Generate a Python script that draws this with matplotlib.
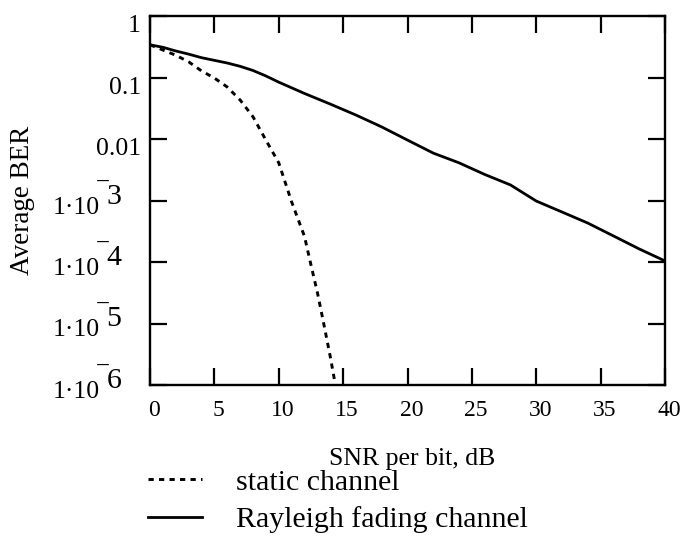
import matplotlib
matplotlib.use('Agg')
import matplotlib.pyplot as plt
from matplotlib.ticker import NullLocator, NullFormatter
from matplotlib.transforms import blended_transform_factory, offset_copy, ScaledTranslation

plt.rcParams['font.family'] = ['Liberation Serif', 'DejaVu Serif']

# static channel (dashed)
static_snr = [0, 1, 2, 3, 4, 5, 6, 7, 8, 9, 10, 11, 12, 12.5, 13, 13.5, 14, 14.4]
static_ber = [0.34, 0.28, 0.23, 0.18, 0.128, 0.098, 0.070, 0.043, 0.023,
              0.0096, 0.0041, 9.5e-4, 2.6e-4, 9e-5, 3.2e-5, 9.8e-6, 2.9e-6, 1e-6]

# Rayleigh fading channel (solid)
rayleigh_snr = [0, 1, 2, 3, 4, 5, 6, 7, 8, 9, 10, 12, 14, 16, 18, 20, 22, 24,
                26, 28, 30, 32, 34, 36, 38, 40]
rayleigh_ber = [0.34, 0.31, 0.27, 0.24, 0.21, 0.19, 0.172, 0.152, 0.13, 0.106,
                0.084, 0.055, 0.037, 0.0245, 0.0157, 0.0096, 0.0059, 0.0041,
                0.00265, 0.00179, 9.8e-4, 6.5e-4, 4.3e-4, 2.65e-4, 1.63e-4, 1.04e-4]

x_ticks = [0, 5, 10, 15, 20, 25, 30, 35, 40]
y_ticks = [1, 0.1, 0.01, 1e-3, 1e-4, 1e-5, 1e-6]
y_plain = {1: '1', 0.1: '0.1', 0.01: '0.01'}
y_exp = {1e-3: '3', 1e-4: '4', 1e-5: '5', 1e-6: '6'}

fig = plt.figure(figsize=(6.84, 5.42), dpi=100)
ax = fig.add_axes([150 / 684, 1 - 385 / 542, 515 / 684, 369 / 542])

ax.plot(static_snr, static_ber, color='black', lw=2.1, linestyle=(0, (1.8, 1.8)),
        label='static channel')
ax.plot(rayleigh_snr, rayleigh_ber, color='black', lw=2.0,
        label='Rayleigh fading channel')

ax.set_yscale('log')
ax.set_xlim(0, 40)
ax.set_ylim(1e-6, 1)
ax.set_xticks(x_ticks)
ax.set_yticks(y_ticks)
ax.yaxis.set_minor_locator(NullLocator())
ax.yaxis.set_major_formatter(NullFormatter())
ax.tick_params(direction='in', length=12, width=1.6, top=True, right=True,
               labelsize=17, pad=11)
for lbl in ax.get_xticklabels():
    lbl.set_transform(lbl.get_transform() + ScaledTranslation(4 / 100, 0, fig.dpi_scale_trans))
for s in ax.spines.values():
    s.set_linewidth(1.7)

# y tick labels drawn by hand, Mathcad style "1·10‾3"
tr = blended_transform_factory(ax.transAxes, ax.transData)
for v, lab in y_plain.items():
    ax.text(0, v, lab, fontsize=18.5, ha='right', va='baseline',
            transform=offset_copy(tr, fig=fig, x=-9, y=-16, units='dots'))
for v, lab in y_exp.items():
    ax.text(0, v, '1\u00b710', fontsize=18.5, ha='right', va='baseline',
            transform=offset_copy(tr, fig=fig, x=-50, y=-13, units='dots'))
    ax.text(0, v, '\u203e' + lab, fontsize=21.5, ha='left', va='baseline',
            transform=offset_copy(tr, fig=fig, x=-52, y=-3, units='dots'))

fig.text(23 / 684, 1 - 200 / 542, 'Average BER', rotation=90, fontsize=19.5,
         ha='center', va='center')
fig.text(412 / 684, 1 - 465 / 542, 'SNR per bit, dB', fontsize=18.5,
         ha='center', va='baseline')

fig.legend(loc='upper left', bbox_to_anchor=(148 / 684, 1 - 469 / 542),
           frameon=False, fontsize=21.5, handlelength=1.8, handletextpad=1.14,
           labelspacing=0.35, borderpad=0, borderaxespad=0)

fig.savefig('out.png', dpi=100)
